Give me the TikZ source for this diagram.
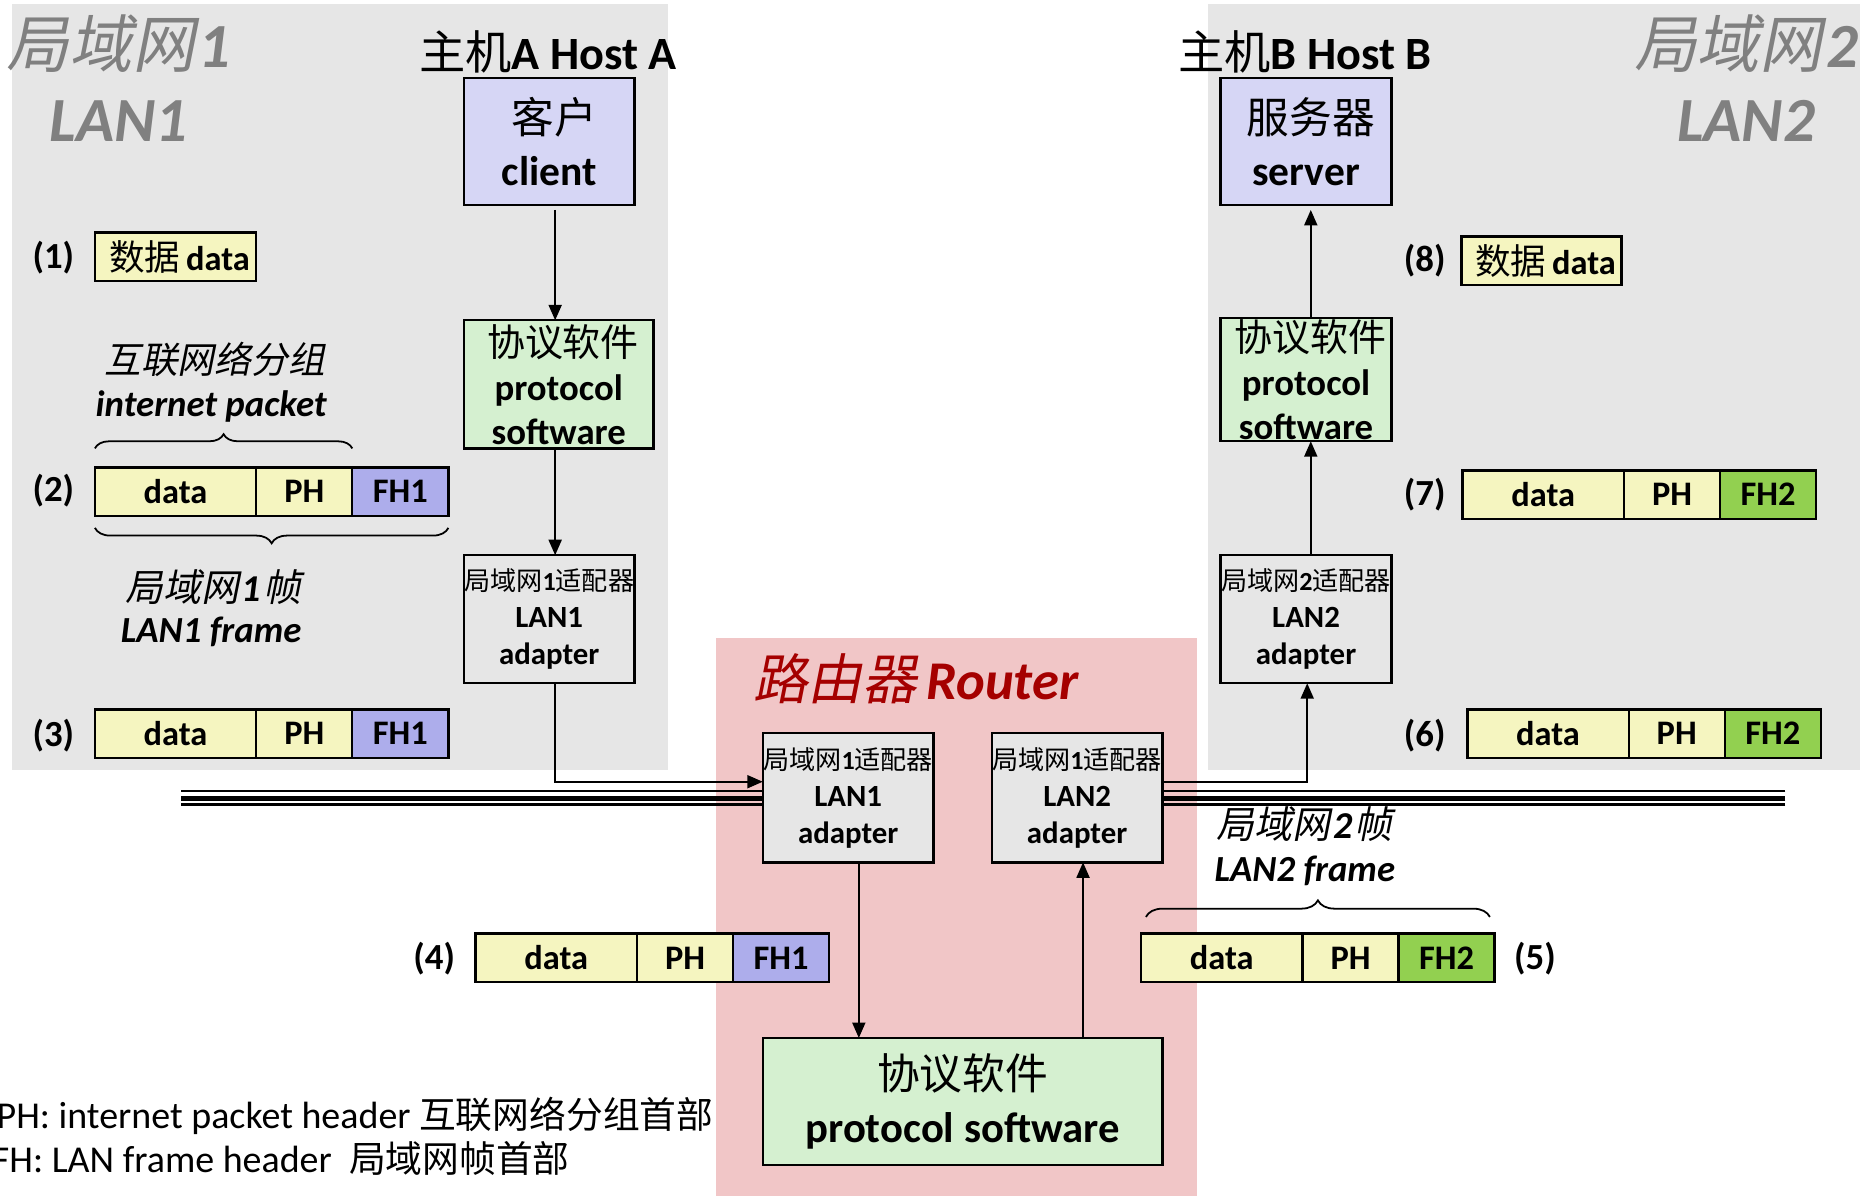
\documentclass[tikz,border=0pt]{standalone}
\usepackage{fontspec}
\setmainfont{Carlito}
\newfontfamily\cjk{Noto Sans CJK SC}
\newfontfamily\cjksl{Noto Sans CJK SC}[FakeSlant=0.2]
\usetikzlibrary{arrows.meta,decorations.pathreplacing}
\definecolor{bggray}{HTML}{E6E6E6}
\definecolor{rpink}{HTML}{F1C6C7}
\definecolor{clav}{HTML}{D6D6F5}
\definecolor{fhlav}{HTML}{ADADEB}
\definecolor{cyel}{HTML}{F5F5C0}
\definecolor{cgreen}{HTML}{D5F0D0}
\definecolor{fhgreen}{HTML}{92D050}
\definecolor{dred}{HTML}{A50000}
\definecolor{tgray}{HTML}{808080}
\newcommand\fs[2]{\fontsize{#1}{#2}\selectfont}
\newcommand\mypkt[5]{%
  \node[cell, fill=cyel, minimum width=136pt, anchor=west] (#1d) at (#2,#3) {data};
  \node[cell, fill=cyel, minimum width=81pt, anchor=west] (#1p) at (#1d.east) {PH};
  \node[cell, fill=#4, minimum width=81pt, anchor=west] (#1f) at (#1p.east) {#5};}
\begin{document}
\begin{tikzpicture}[x=1pt,y=-1pt,
  box/.style={draw, line width=2pt, inner sep=0pt, outer sep=0pt, align=center},
  cell/.style={draw, line width=2pt, minimum height=41pt, inner sep=0pt, outer sep=0pt, font=\bfseries\fs{29}{29}},
  lbl/.style={inner sep=0pt, font=\bfseries\fs{31}{31}},
  conn/.style={line width=1.5pt},
  arr/.style={conn, -{Triangle[length=13pt,width=11pt]}},
  brc/.style={decorate, line width=1.5pt},
  adtext/.style={box, fill=bggray, minimum width=144pt, minimum height=108pt, font=\fs{26}{31}}]
\useasboundingbox (0,0) rectangle (1568,1007.4);
% backgrounds
\fill[bggray] (10,3) rectangle (563,649);
\fill[bggray] (1018,3) rectangle (1568,649);
\fill[rpink] (604,538) rectangle (1009,1008);

% titles
\node[inner sep=0pt, text=tgray, font=\fs{53}{53}] (lan1cn) at (100,37) {{\cjksl 局域网}\kern3pt{\bfseries\itshape 1}};
\node[inner sep=0pt, text=tgray, font=\bfseries\itshape\fs{53}{53}] (lan1en) at (100,102) {LAN1};
\node[inner sep=0pt, text=tgray, font=\fs{53}{53}] (lan2cn) at (1472,37) {{\cjksl 局域网}\kern3pt{\bfseries\itshape 2}};
\node[inner sep=0pt, text=tgray, font=\bfseries\itshape\fs{53}{53}] (lan2en) at (1472,102) {LAN2};
\node[inner sep=0pt, font=\fs{39}{39}] (hosta) at (462,44) {{\cjk 主机}\textbf{A Host A}};
\node[inner sep=0pt, font=\fs{39}{39}] (hostb) at (1100,44) {{\cjk 主机}\textbf{B Host B}};
\node[inner sep=0pt, text=dred, font=\fs{46}{46}] (rtitle) at (772,572) {{\cjksl 路由器}\kern8pt{\bfseries\itshape Router}};

% bus lines
\coordinate (bl1) at (153,667);
\coordinate (bl2) at (153,673);
\coordinate (bl3) at (153,678);
\coordinate (br1) at (1505,667);
\coordinate (br2) at (1505,673);
\coordinate (br3) at (1505,678);

% host A
\node[box, fill=clav, minimum width=144pt, minimum height=107pt, font=\fs{35}{44}] (client) at (463,119.5) {{\cjk\fs{36}{44} 客户}\\\textbf{client}};
\node[box, fill=cgreen, minimum width=160pt, minimum height=108pt, font=\fs{31}{37}] (protoA) at (471,324) {{\cjk\fs{32}{37} 协议软件}\\\textbf{protocol}\\\textbf{software}};
\node[adtext] (adaptA) at (463,522) {{\cjk\fs{22}{31}局域网}{\bfseries\fs{22}{31}1}{\cjk\fs{22}{31}适配器}\\\textbf{LAN1}\\\textbf{adapter}};

% host B
\node[box, fill=clav, minimum width=144pt, minimum height=107pt, font=\fs{35}{44}] (server) at (1101,119.5) {{\cjk\fs{36}{44} 服务器}\\\textbf{server}};
\node[box, fill=cgreen, minimum width=144pt, minimum height=104pt, font=\fs{31}{37}] (protoB) at (1101,320) {{\cjk\fs{32}{37} 协议软件}\\\textbf{protocol}\\\textbf{software}};
\node[adtext] (adaptB) at (1101,522) {{\cjk\fs{22}{31}局域网}{\bfseries\fs{22}{31}2}{\cjk\fs{22}{31}适配器}\\\textbf{LAN2}\\\textbf{adapter}};

% router
\draw[line width=1.7pt] (bl1) -- (bl1 -| 643,0);
\draw[line width=4.2pt] (bl2) -- (bl2 -| 643,0);
\draw[line width=2.1pt] (bl3) -- (bl3 -| 643,0);
\draw[line width=1.7pt] (br1) -- (br1 -| 980,0);
\draw[line width=4.2pt] (br2) -- (br2 -| 980,0);
\draw[line width=2.1pt] (br3) -- (br3 -| 980,0);
\node[adtext, minimum height=109pt] (rad1) at (715,672.5) {{\cjk\fs{22}{31}局域网}{\bfseries\fs{22}{31}1}{\cjk\fs{22}{31}适配器}\\\textbf{LAN1}\\\textbf{adapter}};
\node[adtext, minimum height=109pt] (rad2) at (908,672.5) {{\cjk\fs{22}{31}局域网}{\bfseries\fs{22}{31}1}{\cjk\fs{22}{31}适配器}\\\textbf{LAN2}\\\textbf{adapter}};
\node[box, fill=cgreen, minimum width=337pt, minimum height=107pt, font=\fs{36}{44}] (rproto) at (811.5,928.5) {{\cjk 协议软件}\\\textbf{protocol software}};

% connectors
\coordinate (ax) at (468,0);
\coordinate (rx1) at (724,0);
\coordinate (rx2) at (913,0);
\coordinate (bx0) at (1102,0);
\coordinate (bx) at (1105,0);
\draw[arr] ([yshift=-4pt]client.south -| ax) -- (protoA.north -| ax);
\draw[arr] (protoA.south -| ax) -- (adaptA.north -| ax);
\draw[arr] (adaptA.south -| ax) |- ([yshift=13.5pt]rad1.west);
\draw[arr] (rad1.south -| rx1) -- (rproto.north -| rx1);
\draw[arr] (rproto.north -| rx2) -- (rad2.south -| rx2);
\draw[arr] ([yshift=13.5pt]rad2.east) -| (adaptB.south -| bx0);
\draw[arr] (adaptB.north -| bx) -- (protoB.south -| bx);
\draw[arr] (protoB.north -| bx) -- ([yshift=-4pt]server.south -| bx);

% data boxes
\node[cell, fill=cyel, minimum width=136pt, font=\fs{29}{29}] (d1) at (148,216.5) {{\cjk\fs{30}{30} 数据}\,\textbf{data}};
\node[cell, fill=cyel, minimum width=135pt, font=\fs{29}{29}] (d8) at (1299.5,220) {{\cjk\fs{30}{30} 数据}\,\textbf{data}};

% packets
\mypkt{p2}{80}{414.5}{fhlav}{FH1}
\mypkt{p3}{80}{618.5}{fhlav}{FH1}
\mypkt{p4}{401}{807.5}{fhlav}{FH1}
\mypkt{p5}{962}{807.5}{fhgreen}{FH2}
\mypkt{p6}{1237}{618.5}{fhgreen}{FH2}
\mypkt{p7}{1233}{417}{fhgreen}{FH2}

% step labels
\node[lbl] (l1) at (45,217) {(1)};
\node[lbl] (l2) at (45,414) {(2)};
\node[lbl] (l3) at (45,620) {(3)};
\node[lbl] (l4) at (366,808) {(4)};
\node[lbl] (l5) at (1294,808) {(5)};
\node[lbl] (l6) at (1201,620) {(6)};
\node[lbl] (l7) at (1201,417) {(7)};
\node[lbl] (l8) at (1201,220) {(8)};

% braces and labels
\draw[brc, decoration={brace, amplitude=12pt}] ([yshift=16pt]p2d.north west) -- ([yshift=16pt]p2p.north east);
\draw[brc, decoration={brace, amplitude=13pt}] ([yshift=-10pt]p2f.south east) -- ([yshift=-10pt]p2d.south west);
\draw[brc, decoration={brace, amplitude=14pt}] ([xshift=4pt,yshift=14pt]p5d.north west) -- ([xshift=-4pt,yshift=14pt]p5f.north east);
\node[inner sep=0pt, font=\fs{31}{31}] (ipcn) at (181,303) {\cjksl 互联网络分组};
\node[inner sep=0pt, font=\bfseries\itshape\fs{31}{31}] (ipen) at (178,343) {internet packet};
\node[inner sep=0pt, font=\fs{32}{32}] (f1cn) at (180,495) {{\cjksl 局域网}\kern2pt{\bfseries\itshape 1}\kern2pt{\cjksl 帧}};
\node[inner sep=0pt, font=\bfseries\itshape\fs{31}{31}] (f1en) at (178,533) {LAN1 frame};
\node[inner sep=0pt, font=\fs{32}{32}] (f2cn) at (1100,695) {{\cjksl 局域网}\kern2pt{\bfseries\itshape 2}\kern2pt{\cjksl 帧}};
\node[inner sep=0pt, font=\bfseries\itshape\fs{31}{31}] (f2en) at (1100,734) {LAN2 frame};

% footnotes
\node[inner sep=0pt, anchor=west, font=\fs{32}{32}] (n1) at (-3,941) {PH: internet packet header {\cjk\fs{31}{31}互联网络分组首部}};
\node[inner sep=0pt, anchor=west, font=\fs{32}{32}] (n2) at (-7,977) {FH: LAN frame header\ \ {\cjk\fs{31}{31}局域网帧首部}};
\end{tikzpicture}
\end{document}
